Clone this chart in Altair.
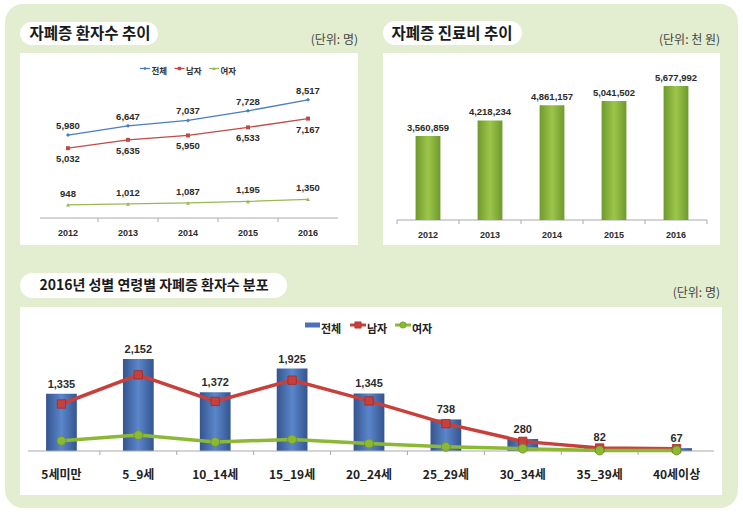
import altair as alt
import pandas as pd

# ---------------- data ----------------
years = ["2012", "2013", "2014", "2015", "2016"]
series = ["전체", "남자", "여자"]
total_patients = [5980, 6647, 7037, 7728, 8517]
male_patients = [5032, 5635, 5950, 6533, 7167]
female_patients = [948, 1012, 1087, 1195, 1350]
medical_cost = [3560859, 4218234, 4861157, 5041502, 5677992]

age_groups = ["5세미만", "5_9세", "10_14세", "15_19세", "20_24세",
              "25_29세", "30_34세", "35_39세", "40세이상"]
age_total = [1335, 2152, 1372, 1925, 1345, 738, 280, 82, 67]
age_male = [1098, 1780, 1160, 1655, 1170, 640, 225, 70, 55]
age_female = [237, 372, 212, 270, 175, 98, 55, 12, 12]

title_a = "자폐증 환자수 추이"
title_b = "자폐증 진료비 추이"
title_c = "2016년 성별 연령별 자폐증 환자수 분포"
unit_people = "(단위: 명)"
unit_cost = "(단위: 천 원)"

# ---------------- style ----------------
FONT = "Noto Sans CJK KR"
NUM = "Liberation Sans"
LABEL = "#2b2b2b"
AXIS = "#a8a8a8"
BG_GREEN = "#e3edd0"

one = pd.DataFrame({"k": [0]})


def box(x1, x2, y1, y2, color, r=0):
    return alt.Chart(one).mark_rect(color=color, cornerRadius=r).encode(
        x=alt.value(x1), x2=alt.value(x2), y=alt.value(y1), y2=alt.value(y2))


def label(x, y, s, size, weight="normal", color="#222222", align="center", font=FONT):
    return alt.Chart(one).mark_text(
        text=s, font=font, fontSize=size, fontWeight=weight, color=color,
        align=align, baseline="middle").encode(x=alt.value(x), y=alt.value(y))


def hline(x1, x2, y, color=AXIS, w=1):
    return alt.Chart(one).mark_rule(color=color, strokeWidth=w).encode(
        x=alt.value(x1), x2=alt.value(x2), y=alt.value(y))


layers = []

# background shapes
layers.append(box(5, 738, 4, 508, BG_GREEN, 18))
layers.append(box(20, 358, 53, 245, "white"))
layers.append(box(383, 720, 53, 245, "white"))
layers.append(box(20, 722, 307, 495, "white"))
layers.append(box(20, 158, 22, 45, "white", 11.5))
layers.append(box(383, 522, 21, 45, "white", 12))
layers.append(box(20, 287, 273, 298, "white", 12.5))
layers.append(label(90, 33.5, title_a, 15.5, "bold", "#1a1a1a"))
layers.append(label(452, 33.5, title_b, 15.5, "bold", "#1a1a1a"))
layers.append(label(154, 286, title_c, 14, "bold", "#1a1a1a"))
layers.append(label(358, 40, unit_people, 12, "normal", "#444444", "right"))
layers.append(label(720, 40, unit_cost, 12, "normal", "#444444", "right"))
layers.append(label(720, 293, unit_people, 12, "normal", "#444444", "right"))

# ---------------- panel A: patients trend ----------------
dfA = pd.DataFrame({
    "year": years * 3,
    "series": [s for s in series for _ in years],
    "value": total_patients + male_patients + female_patients,
})
colorsA = ["#4a7ebb", "#be4b48", "#98b954"]
xA = alt.Scale(type="band", domain=years, range=[38, 338], paddingInner=0, paddingOuter=0)
yA = alt.Scale(domain=[0, 10000], range=[218, 79.3])
baseA = alt.Chart(dfA).encode(
    x=alt.X("year:O", scale=xA, bandPosition=0.5, axis=None),
    y=alt.Y("value:Q", scale=yA, axis=None),
    color=alt.Color("series:N", scale=alt.Scale(domain=series, range=colorsA), legend=None),
)
layers.append(hline(40, 338, 218))
layers.append(alt.Chart(pd.DataFrame({"year": years[1:]})).mark_rule(color=AXIS).encode(
    x=alt.X("year:O", scale=xA, bandPosition=0, axis=None), y=alt.value(218), y2=alt.value(222)))
layers.append(alt.Chart(pd.DataFrame({"year": years})).mark_text(
    font=NUM, fontSize=9, fontWeight="bold", color=LABEL, baseline="middle").encode(
    x=alt.X("year:O", scale=xA, bandPosition=0.5, axis=None), y=alt.value(233), text="year:N"))
layers.append(baseA.mark_line(strokeWidth=1.3))
layers.append(baseA.mark_point(filled=True, size=16, opacity=1).encode(
    shape=alt.Shape("series:N", scale=alt.Scale(domain=series, range=["diamond", "square", "triangle-up"]), legend=None)))
for s, dy in zip(series, [-9, 11, -11]):
    layers.append(baseA.transform_filter(alt.datum.series == s).mark_text(
        dy=dy, font=NUM, fontSize=9.5, fontWeight="bold", baseline="middle").encode(
        text=alt.Text("value:Q", format=","), color=alt.value(LABEL)))
# legend A
for i, (s, c, shp) in enumerate(zip(series, colorsA, ["diamond", "square", "triangle-up"])):
    x0 = 140 + i * 34.5
    layers.append(hline(x0, x0 + 10, 68.5, c, 1.3))
    layers.append(alt.Chart(one).mark_point(filled=True, size=12, shape=shp, color=c, opacity=1).encode(
        x=alt.value(x0 + 5), y=alt.value(68.5)))
    layers.append(label(x0 + 11.5, 71, s, 8.5, "bold", "#333333", "left"))

# ---------------- panel B: medical cost ----------------
dfB = pd.DataFrame({"year": years, "cost": medical_cost})
xB = alt.Scale(type="band", domain=years, range=[397, 707], paddingInner=0.6, paddingOuter=0.3)
xB_ticks = alt.Scale(type="band", domain=years, range=[397, 707], paddingInner=0, paddingOuter=0)
yB = alt.Scale(domain=[0, 6000000], range=[220, 78.3])
green_grad = alt.LinearGradient(
    gradient="linear", x1=0, x2=1, y1=0, y2=0,
    stops=[alt.GradientStop(offset=0, color="#6f9a2d"),
           alt.GradientStop(offset=0.5, color="#9cc64a"),
           alt.GradientStop(offset=1, color="#6f9a2d")])
layers.append(hline(397, 707, 220))
layers.append(alt.Chart(dfB).mark_rule(color=AXIS).encode(
    x=alt.X("year:O", scale=xB_ticks, bandPosition=0, axis=None), y=alt.value(220), y2=alt.value(224)))
layers.append(alt.Chart(dfB.tail(1)).mark_rule(color=AXIS).encode(
    x=alt.X("year:O", scale=xB_ticks, bandPosition=1, axis=None), y=alt.value(220), y2=alt.value(224)))
layers.append(alt.Chart(dfB).mark_bar(color=green_grad).encode(
    x=alt.X("year:O", scale=xB, axis=None),
    y=alt.Y("cost:Q", scale=yB, axis=None)))
layers.append(alt.Chart(dfB).mark_text(
    dy=-8, font=NUM, fontSize=9.5, fontWeight="bold", color=LABEL, baseline="middle").encode(
    x=alt.X("year:O", scale=xB, bandPosition=0.5, axis=None),
    y=alt.Y("cost:Q", scale=yB, axis=None),
    text=alt.Text("cost:Q", format=",")))
layers.append(alt.Chart(dfB).mark_text(
    font=NUM, fontSize=9, fontWeight="bold", color=LABEL, baseline="middle").encode(
    x=alt.X("year:O", scale=xB, bandPosition=0.5, axis=None), y=alt.value(235), text="year:N"))

# ---------------- panel C: age distribution ----------------
dfC = pd.DataFrame({"age": age_groups, "total": age_total})
dfCl = pd.DataFrame({
    "age": age_groups * 2,
    "series": ["남자"] * len(age_groups) + ["여자"] * len(age_groups),
    "value": age_male + age_female,
})
xC_bar = alt.Scale(type="band", domain=age_groups, range=[23, 715], paddingInner=0.6, paddingOuter=0.3)
xC = alt.Scale(type="band", domain=age_groups, range=[23, 715], paddingInner=0, paddingOuter=0)
yC = alt.Scale(domain=[0, 2500], range=[451, 344])
blue_grad = alt.LinearGradient(
    gradient="linear", x1=0, x2=1, y1=0, y2=0,
    stops=[alt.GradientStop(offset=0, color="#34558f"),
           alt.GradientStop(offset=0.5, color="#5b86cb"),
           alt.GradientStop(offset=1, color="#34558f")])
line_colors = ["#c8403c", "#8bb935"]
layers.append(alt.Chart(dfC).mark_bar(color=blue_grad).encode(
    x=alt.X("age:O", scale=xC_bar, axis=None),
    y=alt.Y("total:Q", scale=yC, axis=None)))
layers.append(hline(28, 714, 451))
layers.append(alt.Chart(dfC.iloc[1:]).mark_rule(color=AXIS).encode(
    x=alt.X("age:O", scale=xC, bandPosition=0, axis=None), y=alt.value(451), y2=alt.value(455)))
baseC = alt.Chart(dfCl).encode(
    x=alt.X("age:O", scale=xC, bandPosition=0.5, axis=None),
    y=alt.Y("value:Q", scale=yC, axis=None),
    color=alt.Color("series:N", scale=alt.Scale(domain=series[1:], range=line_colors), legend=None),
)
layers.append(baseC.mark_line(strokeWidth=3.5))
layers.append(baseC.transform_filter(alt.datum.series == "남자").mark_point(
    shape="square", filled=True, size=70, opacity=1, stroke="#9e2b28", strokeWidth=0.8))
layers.append(baseC.transform_filter(alt.datum.series == "여자").mark_point(
    shape="circle", filled=True, size=80, opacity=1, stroke="#6c8f24", strokeWidth=0.8))
layers.append(alt.Chart(dfC).mark_text(
    dy=-9, font=NUM, fontSize=11, fontWeight="bold", color=LABEL, baseline="middle").encode(
    x=alt.X("age:O", scale=xC, bandPosition=0.5, axis=None),
    y=alt.Y("total:Q", scale=yC, axis=None),
    text=alt.Text("total:Q", format=",")))
layers.append(alt.Chart(dfC).mark_text(
    font=FONT, fontSize=12, fontWeight="bold", color="#222222", baseline="middle").encode(
    x=alt.X("age:O", scale=xC, bandPosition=0.5, axis=None), y=alt.value(475), text="age:N"))
# legend C
layers.append(box(305, 320, 322.5, 327.5, "#4a72b8"))
layers.append(label(321, 330, series[0], 11, "bold", "#222222", "left"))
for i, (s, c, shp, sc) in enumerate(zip(series[1:], line_colors, ["square", "circle"], ["#9e2b28", "#6c8f24"])):
    x0 = 350 + i * 45
    layers.append(hline(x0, x0 + 16, 325, c, 3))
    layers.append(alt.Chart(one).mark_point(filled=True, size=40, shape=shp, color=c, opacity=1,
                                            stroke=sc, strokeWidth=0.6).encode(
        x=alt.value(x0 + 8), y=alt.value(325)))
    layers.append(label(x0 + 17, 330, s, 11, "bold", "#222222", "left"))

chart = alt.layer(*layers).resolve_scale(
    x="independent", y="independent", color="independent", shape="independent"
).properties(
    width=743, height=514, padding=0, autosize=alt.AutoSizeParams(type="none"),
    background="white",
).configure_view(stroke=None)

chart.save("out.html", embed_options={"renderer": "svg", "actions": False})
